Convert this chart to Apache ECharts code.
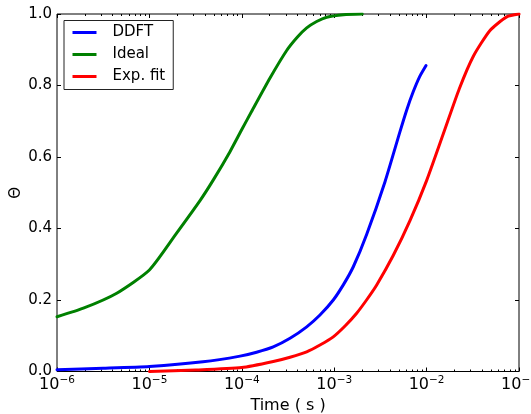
<!DOCTYPE html>
<html>
<head>
<meta charset="utf-8">
<script src="https://cdn.jsdelivr.net/npm/echarts@6/dist/echarts.min.js"></script>
<style>
html,body{margin:0;padding:0;background:#fff;}
#chart{width:531px;height:414px;}
</style>
</head>
<body>
<div id="chart"></div>
<script>
// ---- data ----
var ddftTime  = [1e-6, 3.16e-6, 1e-5, 3.8e-5, 9.57e-5, 1.445e-4, 2.19e-4, 3.327e-4, 5.04e-4, 7.015e-4, 9.77e-4, 1.259e-3, 1.61e-3, 2.249e-3, 3.548e-3, 5.152e-3, 6.081e-3, 7.178e-3, 8.414e-3, 9.863e-3];
var ddftTheta = [0.005, 0.009, 0.014, 0.027, 0.043, 0.054, 0.069, 0.093, 0.125, 0.158, 0.200, 0.243, 0.293, 0.384, 0.531, 0.671, 0.731, 0.783, 0.825, 0.856];

var idealTime  = [1e-6, 1.93e-6, 4.43e-6, 1e-5, 1.97e-5, 3.53e-5, 4.92e-5, 7.45e-5, 1e-4, 1.28e-4, 2.02e-4, 3.06e-4, 3.981e-4, 5.04e-4, 6.457e-4, 8.3e-4, 1.26e-3, 2.01e-3];
var idealTheta = [0.153, 0.177, 0.219, 0.284, 0.387, 0.478, 0.536, 0.615, 0.677, 0.728, 0.821, 0.898, 0.935, 0.961, 0.979, 0.991, 0.998, 1.0];

var expTime  = [1e-5, 3.16e-5, 1e-4, 2.19e-4, 3.327e-4, 5.04e-4, 7.015e-4, 9.77e-4, 1.318e-3, 1.75e-3, 2.239e-3, 2.884e-3, 4.365e-3, 6.607e-3, 1e-2, 1.517e-2, 2.259e-2, 3.206e-2, 4.853e-2, 7.362e-2, 1e-1];
var expTheta = [0.0, 0.004, 0.011, 0.028, 0.040, 0.055, 0.074, 0.097, 0.128, 0.163, 0.200, 0.242, 0.325, 0.422, 0.534, 0.665, 0.791, 0.882, 0.954, 0.992, 1.0];

var seriesNames = ['DDFT', 'Ideal', 'Exp. fit'];
var xTickExponents = [-6, -5, -4, -3, -2, -1];
var yTicks = [0.0, 0.2, 0.4, 0.6, 0.8, 1.0];

// ---- build helpers ----
function pairs(ts, vs) { return ts.map(function (t, i) { return [t, vs[i]]; }); }
var majorX = xTickExponents.map(function (e) { return Math.pow(10, e); });
var minorX = [];
for (var k = 0; k < xTickExponents.length - 1; k++) {
  for (var m = 2; m <= 9; m++) minorX.push(m * Math.pow(10, xTickExponents[k]));
}
var FONT = 'DejaVu Sans';

function logAxis(pos, opts) {
  return {
    type: 'log', logBase: 10, min: 1e-6, max: 1e-1, position: pos,
    axisLine: { show: false }, splitLine: { show: false },
    axisLabel: { show: false },
    axisTick: { show: true, inside: true, length: opts.len, lineStyle: { color: '#000', width: 1 }, customValues: opts.vals }
  };
}

var xMain = logAxis('bottom', { len: 4, vals: majorX });
xMain.name = 'Time ( s )';
xMain.nameLocation = 'middle';
xMain.nameGap = 26;
xMain.nameMoveOverlap = false;
xMain.nameTextStyle = { fontFamily: FONT, fontSize: 16, color: '#000' };
xMain.axisLabel = {
  show: true, margin: 3, customValues: majorX, showMinLabel: true, showMaxLabel: true,
  formatter: function (v) {
    var e = Math.round(Math.log10(v));
    return '{b|10}{s|\u2212' + Math.abs(e) + '}';
  },
  rich: {
    b: { fontFamily: FONT, fontSize: 16, color: '#000', lineHeight: 16, padding: [4, 0, 0, 0] },
    s: { fontFamily: FONT, fontSize: 10.5, color: '#000', lineHeight: 11, verticalAlign: 'top' }
  }
};

function lineSeries(i, ts, vs, col) {
  return {
    name: seriesNames[i], type: 'line', data: pairs(ts, vs), showSymbol: false,
    smooth: 0.2,
    color: col, lineStyle: { width: 3, color: col, cap: 'round', join: 'round' }, clip: true
  };
}

var option = {
  animation: false,
  backgroundColor: '#fff',
  grid: {
    left: 57, right: 12, top: 14, bottom: 42.5,
    show: true, borderColor: '#000', borderWidth: 1, backgroundColor: 'transparent',
    containLabel: false, outerBoundsMode: 'none'
  },
  legend: {
    orient: 'vertical', left: 64, top: 20.5,
    padding: [4.5, 8, 5.5, 8.5],
    itemWidth: 24, itemHeight: 3, itemGap: 7,
    icon: 'rect',
    borderColor: '#222', borderWidth: 1, backgroundColor: '#fff',
    textStyle: { fontFamily: FONT, fontSize: 15, color: '#000', lineHeight: 15, padding: [0, 0, 0, 11] },
    data: seriesNames
  },
  xAxis: [
    xMain,
    logAxis('bottom', { len: 2, vals: minorX }),
    logAxis('top', { len: 4, vals: majorX }),
    logAxis('top', { len: 2, vals: minorX })
  ],
  yAxis: [
    {
      type: 'value', min: 0, max: 1, interval: 0.2, position: 'left',
      name: '\u0398', nameLocation: 'middle', nameGap: 33, nameRotate: 90, nameMoveOverlap: false,
      nameTextStyle: { fontFamily: FONT, fontSize: 15, color: '#000' },
      axisLine: { show: false }, splitLine: { show: false },
      axisTick: { show: true, inside: true, length: 4, lineStyle: { color: '#000' } },
      axisLabel: { fontFamily: FONT, fontSize: 15, color: '#000', margin: 5, showMinLabel: true, showMaxLabel: true,
        formatter: function (v) { return v.toFixed(1); } }
    },
    {
      type: 'value', min: 0, max: 1, interval: 0.2, position: 'right',
      axisLine: { show: false }, splitLine: { show: false },
      axisTick: { show: true, inside: true, length: 4, lineStyle: { color: '#000' } },
      axisLabel: { show: false }
    }
  ],
  series: [
    lineSeries(0, ddftTime, ddftTheta, '#0000ff'),
    lineSeries(1, idealTime, idealTheta, '#008000'),
    lineSeries(2, expTime, expTheta, '#ff0000')
  ]
};

var chart = echarts.init(document.getElementById('chart'), null, { renderer: 'canvas' });
chart.setOption(option);
</script>
</body>
</html>
